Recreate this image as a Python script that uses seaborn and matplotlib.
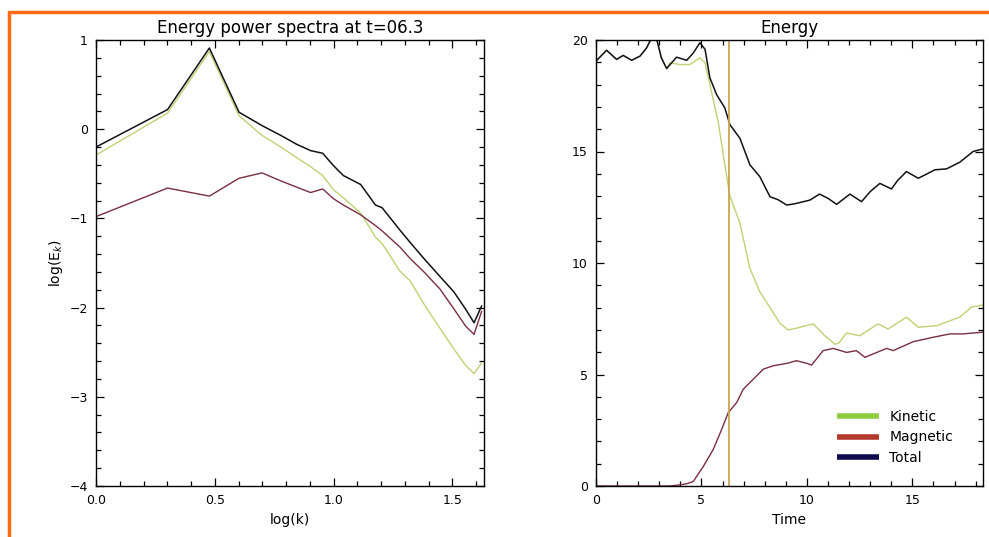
import numpy as np
import pandas as pd
import matplotlib
matplotlib.use("Agg")
import matplotlib.pyplot as plt
from matplotlib.lines import Line2D
from matplotlib.ticker import MultipleLocator
import seaborn as sns

# ---------------- data: left panel (power spectra) ----------------
k_modes = [1, 2, 3, 4, 5, 6, 7, 8, 9, 10, 11, 13, 15, 16, 19, 21, 24, 28, 32, 36, 39, 42]
spec_total = [-0.20, 0.22, 0.91, 0.19, 0.04, -0.07, -0.17, -0.24, -0.27, -0.41, -0.52,
              -0.62, -0.85, -0.88, -1.13, -1.27, -1.45, -1.65, -1.82, -2.02, -2.17, -1.98]
spec_kinetic = [-0.29, 0.18, 0.87, 0.15, -0.07, -0.20, -0.32, -0.42, -0.52, -0.68, -0.77,
                -0.94, -1.21, -1.28, -1.59, -1.70, -1.96, -2.23, -2.46, -2.65, -2.74, -2.62]
spec_magnetic = [-0.98, -0.66, -0.75, -0.55, -0.49, -0.58, -0.65, -0.71, -0.67, -0.78, -0.85,
                 -0.96, -1.08, -1.14, -1.32, -1.45, -1.60, -1.79, -2.01, -2.21, -2.30, -2.04]

# ---------------- data: right panel (energy vs time) ----------------
t_total = [0, 0.5, 0.98, 1.29, 1.69, 2.09, 2.4, 2.64, 2.86, 3.1,
           3.35, 3.82, 4.3, 4.6, 4.93, 5.17, 5.4, 5.72, 6.11, 6.35,
           6.82, 7.3, 7.77, 8.25, 8.63, 9.04, 9.4, 10.14, 10.6, 11.0,
           11.41, 12.04, 12.59, 13.0, 13.46, 14.01, 14.3, 14.72, 15.28, 15.6,
           16.07, 16.62, 17.25, 17.88, 18.36]
e_total = [19.05, 19.54, 19.13, 19.31, 19.09, 19.28, 19.65, 20.1, 20.1, 19.2,
           18.72, 19.23, 19.09, 19.4, 19.88, 19.58, 18.30, 17.55, 16.95, 16.20,
           15.60, 14.40, 13.87, 12.97, 12.84, 12.60, 12.65, 12.82, 13.09, 12.9,
           12.63, 13.09, 12.75, 13.2, 13.57, 13.32, 13.7, 14.10, 13.80, 13.95,
           14.18, 14.22, 14.52, 15.0, 15.12]

t_kinetic = [0, 0.5, 0.98, 1.29, 1.69, 2.09, 2.4, 2.64, 2.86, 3.1,
             3.35, 3.5, 3.98, 4.45, 4.93, 5.17, 5.4, 5.8, 6.11, 6.35,
             6.82, 7.3, 7.77, 8.25, 8.72, 9.11, 9.35, 10.3, 10.85, 11.33,
             11.5, 11.88, 12.51, 13.38, 13.85, 14.72, 15.28, 16.15, 17.25, 17.8,
             18.36]
e_kinetic = [19.05, 19.54, 19.13, 19.31, 19.09, 19.28, 19.65, 20.1, 20.1, 19.2,
             18.72, 18.98, 18.9, 18.9, 19.2, 18.98, 18.0, 16.3, 14.4, 13.0,
             11.8, 9.75, 8.7, 8.0, 7.3, 7.0, 7.04, 7.27, 6.74, 6.36,
             6.4, 6.86, 6.74, 7.27, 7.04, 7.57, 7.12, 7.19, 7.57, 8.02,
             8.12]

t_magnetic = [0, 3.0, 3.5, 3.98, 4.3, 4.61, 5.09, 5.56, 5.96, 6.27,
              6.67, 6.98, 7.46, 7.93, 8.4, 9.11, 9.5, 10.0, 10.22, 10.77,
              11.25, 11.88, 12.35, 12.75, 13.78, 14.09, 15.04, 15.99, 16.78, 17.4,
              18.36]
e_magnetic = [0, 0, 0.0, 0.05, 0.1, 0.2, 0.88, 1.64, 2.54, 3.29,
              3.74, 4.34, 4.79, 5.24, 5.39, 5.51, 5.62, 5.5, 5.42, 6.07,
              6.17, 5.99, 6.07, 5.77, 6.17, 6.07, 6.47, 6.67, 6.82, 6.82,
              6.9]

t_marker = 6.3
legend_labels = ["Kinetic", "Magnetic", "Total"]

# ---------------- styling ----------------
sns.set_style("white")
plt.rcParams["font.family"] = ["DejaVu Sans"]
plt.rcParams["text.color"] = "black"
plt.rcParams["axes.labelcolor"] = "black"
plt.rcParams["xtick.color"] = "black"
plt.rcParams["ytick.color"] = "black"

c_kin_line = "#bdd273"
c_mag_line = "#7a2e3e"
c_tot_line = "#111118"
c_kin_leg = "#8fcc3f"
c_mag_leg = "#b3392c"
c_tot_leg = "#0b0b4e"
c_marker = "#c9a54c"

fig = plt.figure(figsize=(9.89, 5.37), dpi=100)
fig.patch.set_facecolor("white")

ax1 = fig.add_axes([96 / 989, 1 - 486 / 537, (484 - 96) / 989, (486 - 40) / 537])
ax2 = fig.add_axes([596 / 989, 1 - 486 / 537, (983 - 596) / 989, (486 - 40) / 537])

logk = np.log10(np.array(k_modes, dtype=float))
df_spec = pd.DataFrame({"logk": logk, "kin": spec_kinetic, "mag": spec_magnetic, "tot": spec_total})

sns.lineplot(data=df_spec, x="logk", y="kin", ax=ax1, color=c_kin_line, lw=1.0, sort=False)
sns.lineplot(data=df_spec, x="logk", y="mag", ax=ax1, color=c_mag_line, lw=1.0, sort=False)
sns.lineplot(data=df_spec, x="logk", y="tot", ax=ax1, color=c_tot_line, lw=1.1, sort=False)

ax1.set_xlim(0, 1.633)
ax1.set_ylim(-4, 1)
ax1.xaxis.set_major_locator(MultipleLocator(0.5))
ax1.xaxis.set_minor_locator(MultipleLocator(0.1))
ax1.yaxis.set_major_locator(MultipleLocator(1))
ax1.yaxis.set_minor_locator(MultipleLocator(0.2))
ax1.set_xticks([0, 0.5, 1.0, 1.5])
ax1.set_xticklabels(["0.0", "0.5", "1.0", "1.5"])
ax1.set_title("Energy power spectra at t=06.3", fontsize=12, pad=5)
ax1.set_xlabel("log(k)", fontsize=10, labelpad=4)
ax1.set_ylabel("log(E$_k$)", fontsize=10, labelpad=3)

sns.lineplot(x=t_kinetic, y=e_kinetic, ax=ax2, color=c_kin_line, lw=1.0)
sns.lineplot(x=t_magnetic, y=e_magnetic, ax=ax2, color=c_mag_line, lw=1.0)
sns.lineplot(x=t_total, y=e_total, ax=ax2, color=c_tot_line, lw=1.1)
ax2.axvline(t_marker, color=c_marker, lw=1.3)

ax2.set_xlim(0, 18.35)
ax2.set_ylim(0, 20)
ax2.xaxis.set_major_locator(MultipleLocator(5))
ax2.xaxis.set_minor_locator(MultipleLocator(1))
ax2.yaxis.set_major_locator(MultipleLocator(5))
ax2.yaxis.set_minor_locator(MultipleLocator(1))
ax2.set_title("Energy", fontsize=12, pad=5)
ax2.set_xlabel("Time", fontsize=10, labelpad=4)
ax2.set_ylabel("")

for ax in (ax1, ax2):
    ax.tick_params(which="both", direction="in", top=True, right=True,
                   bottom=True, left=True,
                   labelsize=9, color="black", labelcolor="black", width=0.9)
    ax.tick_params(which="major", length=6, pad=6)
    ax.tick_params(which="minor", length=3.5)
    for sp in ax.spines.values():
        sp.set_color("black")
        sp.set_linewidth(1.0)
    ax.set_facecolor("white")

handles = [Line2D([0], [0], color=c, lw=4, solid_capstyle="butt")
           for c in (c_kin_leg, c_mag_leg, c_tot_leg)]
ax2.legend(handles, legend_labels, loc="upper left", bbox_to_anchor=(0.623, 0.17),
           frameon=False, fontsize=10, handlelength=3.0, handletextpad=0.75,
           labelspacing=0.45, borderpad=0, borderaxespad=0)

# orange frame
fig.add_artist(Line2D([9 / 989, 1.0], [1 - 12 / 537, 1 - 12 / 537],
                      transform=fig.transFigure, color="#ff6a13", lw=2.5))
fig.add_artist(Line2D([9 / 989, 9 / 989], [0.0, 1 - 12 / 537],
                      transform=fig.transFigure, color="#ff6a13", lw=2.5))

fig.savefig("out.png", dpi=100)
